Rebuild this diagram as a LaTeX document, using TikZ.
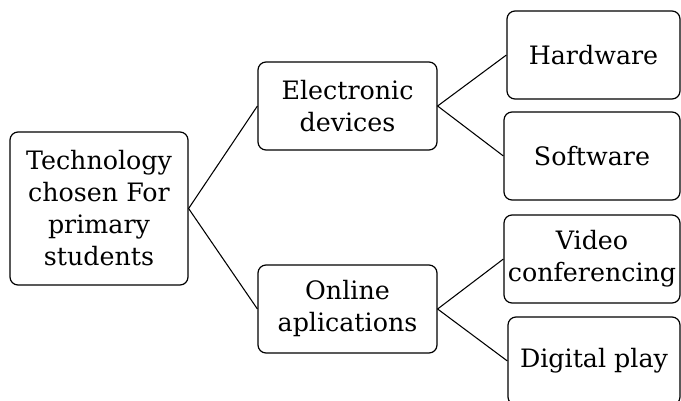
\documentclass[tikz,border=0pt]{standalone}
\usepackage{fontspec}
\setmainfont{DejaVu Serif}
\begin{document}
\begin{tikzpicture}[x=0.75pt,y=-0.75pt,
  box/.style={draw=black,line width=0.9pt,rounded corners=6pt,inner sep=0pt,
    align=center,minimum height=66pt,font=\fontsize{19}{24}\selectfont},
  link/.style={draw=black,line width=0.8pt}]
\useasboundingbox (0,0) rectangle (681,400);
\node[box,minimum width=133.5pt,minimum height=114.75pt] (root) at (99,208.5) {Technology\\chosen For\\primary\\students};
\node[box,minimum width=134.25pt] (elec) at (347.5,106) {Electronic\\devices};
\node[box,minimum width=134.25pt] (online) at (347.5,309) {Online\\aplications};
\node[box,minimum width=129.75pt] (hard) at (593.5,55) {Hardware};
\node[box,minimum width=132pt] (soft) at (592,156) {Software};
\node[box,minimum width=132pt] (video) at (592,259) {Video\\conferencing};
\node[box,minimum width=129pt] (digital) at (594,361) {Digital play};
\draw[link] (elec.west) -- (root.east) -- (online.west);
\draw[link] (hard.west) -- (elec.east) -- (soft.west);
\draw[link] (video.west) -- (online.east) -- (digital.west);
\end{tikzpicture}
\end{document}
